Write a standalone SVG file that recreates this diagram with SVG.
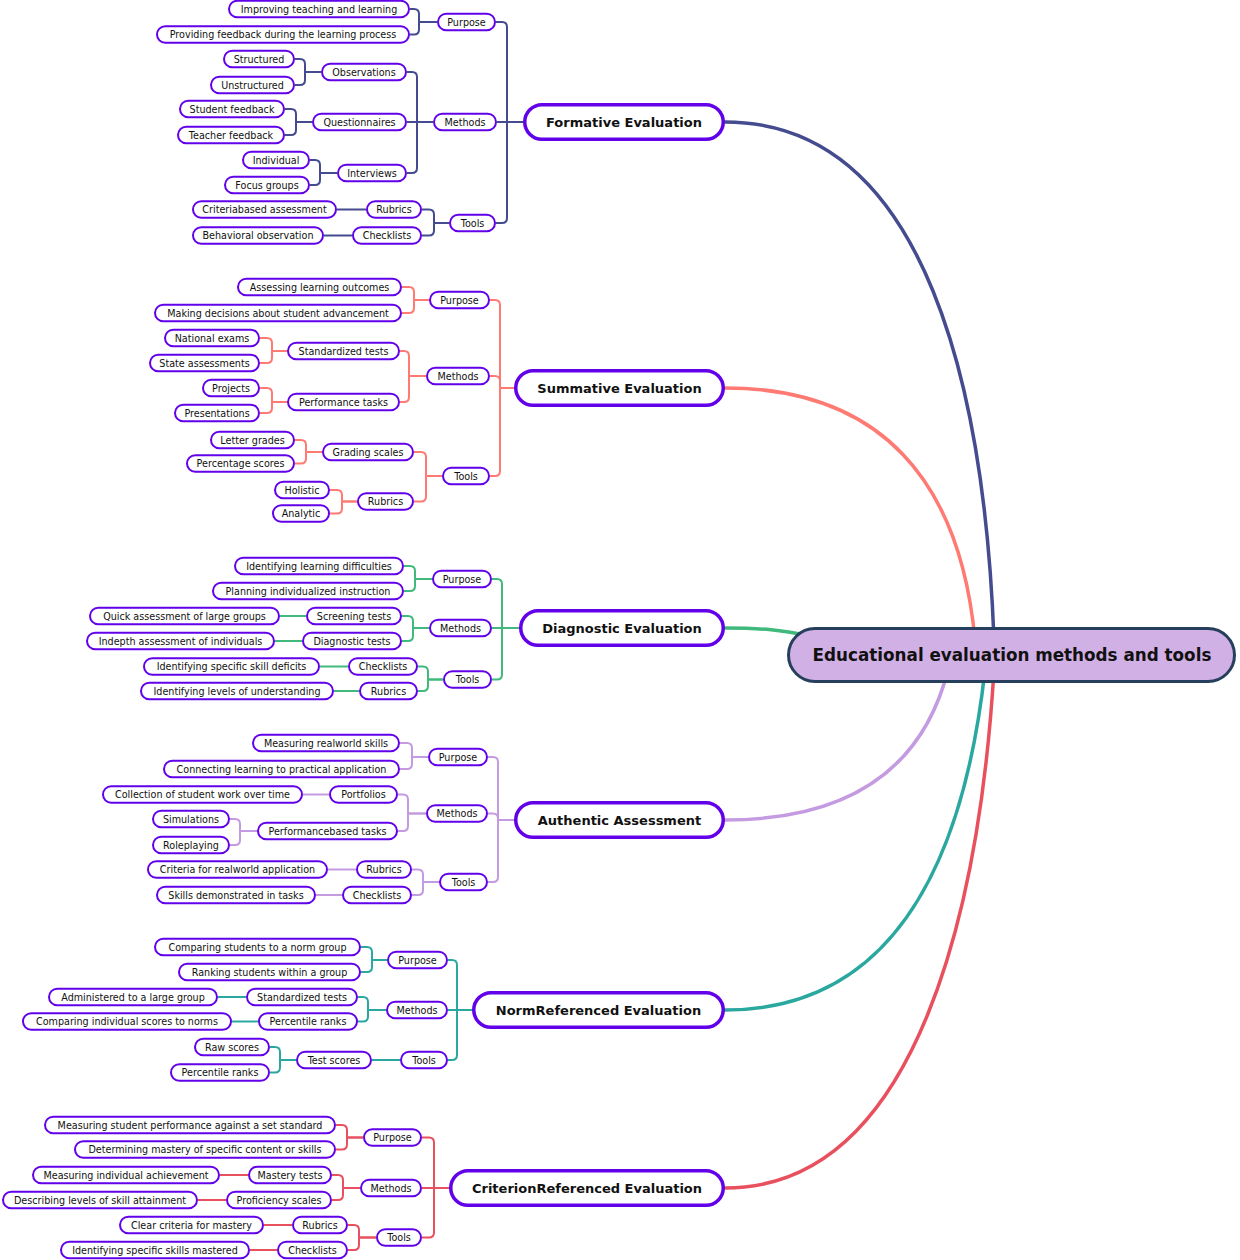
<svg xmlns="http://www.w3.org/2000/svg" width="1240" height="1260" viewBox="0 0 1240 1260">
<style>
.n rect{fill:#fff;stroke:#6200ea;stroke-width:2}
.n text{font-family:"DejaVu Sans",Verdana,sans-serif;font-size:9.6px;fill:#111;text-anchor:middle}
.m rect{stroke-width:3.5}
.m text{font-size:13px;font-weight:bold}
.root rect{fill:#d1b0e6;stroke:#263f5c;stroke-width:3}
.root text{font-family:"DejaVu Sans",Verdana,sans-serif;font-size:16.8px;font-weight:bold;fill:#111;text-anchor:middle}
.c path{fill:none;stroke-width:2}
.c .b{stroke-width:3.5;stroke-linecap:round}
.f{stroke:#444b8e}.s{stroke:#fe7a72}.d{stroke:#3fba7c}.a{stroke:#c49ae0}.nr{stroke:#2aa8a0}.cr{stroke:#e8505e}
</style>
<g id="connectors" class="c">
<path class="b f" d="M725 122 C930 122 985 400 994 640"/>
<path class="b s" d="M725 388 C880 388 960 480 975 640"/>
<path class="b d" d="M725 628 C765 628 780 630 810 636"/>
<path class="b a" d="M725 820 C860 820 925 760 948 670"/>
<path class="b nr" d="M725 1010 C900 1010 965 850 985 670"/>
<path class="b cr" d="M725 1188 C920 1188 980 900 994 670"/>
<g class="f">
<path d="M496 22 H502 Q507 22 507 27 V122 H523"/>
<path d="M497 122 H523"/>
<path d="M496 223 H502 Q507 223 507 218 V122 H523"/>
<path d="M410 9 H414 Q419 9 419 14 V22 H437"/>
<path d="M410 34.5 H414 Q419 34.5 419 29.5 V22 H437"/>
<path d="M407 72 H412 Q417 72 417 77 V122 H433"/>
<path d="M407 122 H433"/>
<path d="M407 173 H412 Q417 173 417 168 V122 H433"/>
<path d="M295 59 H300 Q305 59 305 64 V72 H321"/>
<path d="M295 85 H300 Q305 85 305 80 V72 H321"/>
<path d="M285 109 H291 Q296 109 296 114 V122 H312"/>
<path d="M285 135 H291 Q296 135 296 130 V122 H312"/>
<path d="M310 160 H315 Q320 160 320 165 V173 H337"/>
<path d="M310 185 H315 Q320 185 320 180 V173 H337"/>
<path d="M422 209.5 H429 Q434 209.5 434 214.5 V223 H449"/>
<path d="M422 235.5 H429 Q434 235.5 434 230.5 V223 H449"/>
<path d="M337 209.5 H366"/>
<path d="M324 235.5 H352"/>
</g>
<g class="s">
<path d="M490 300 H495 Q500 300 500 305 V388 H514"/>
<path d="M490 376 H495 Q500 376 500 381 V388 H514"/>
<path d="M490 476 H495 Q500 476 500 471 V388 H514"/>
<path d="M402 287 H409 Q414 287 414 292 V300 H429"/>
<path d="M402 313 H409 Q414 313 414 308 V300 H429"/>
<path d="M400 351 H404 Q409 351 409 356 V376 H426"/>
<path d="M400 402 H404 Q409 402 409 397 V376 H426"/>
<path d="M260 338 H267 Q272 338 272 343 V351 H287"/>
<path d="M260 363 H267 Q272 363 272 358 V351 H287"/>
<path d="M260 388 H267 Q272 388 272 393 V402 H287"/>
<path d="M260 413 H267 Q272 413 272 408 V402 H287"/>
<path d="M414 452 H421 Q426 452 426 457 V476 H442"/>
<path d="M414 501.5 H421 Q426 501.5 426 496.5 V476 H442"/>
<path d="M295 440 H301 Q306 440 306 445 V452 H322"/>
<path d="M295 463.5 H301 Q306 463.5 306 458.5 V452 H322"/>
<path d="M330 490 H337 Q342 490 342 495 V501.5 H357"/>
<path d="M330 513.5 H337 Q342 513.5 342 508.5 V501.5 H357"/>
</g>
<g class="d">
<path d="M492 579 H497 Q502 579 502 584 V628 H519"/>
<path d="M492 628 H519"/>
<path d="M492 679.5 H497 Q502 679.5 502 674.5 V628 H519"/>
<path d="M404 566 H410 Q415 566 415 571 V579 H432"/>
<path d="M404 591 H410 Q415 591 415 586 V579 H432"/>
<path d="M402 616 H408 Q413 616 413 621 V628 H429"/>
<path d="M402 641 H408 Q413 641 413 636 V628 H429"/>
<path d="M280 616 H306"/>
<path d="M275 641 H302"/>
<path d="M418 666.5 H423 Q428 666.5 428 671.5 V679.5 H443"/>
<path d="M418 691 H423 Q428 691 428 686 V679.5 H443"/>
<path d="M320 666.5 H348"/>
<path d="M334 691 H359"/>
</g>
<g class="a">
<path d="M488 757 H493 Q498 757 498 762 V820 H514"/>
<path d="M488 813.5 H493 Q498 813.5 498 818.5 V820 H514"/>
<path d="M488 882 H493 Q498 882 498 877 V820 H514"/>
<path d="M400 743 H407 Q412 743 412 748 V757 H428"/>
<path d="M400 769 H407 Q412 769 412 764 V757 H428"/>
<path d="M398 794.5 H403 Q408 794.5 408 799.5 V813.5 H426"/>
<path d="M398 831 H403 Q408 831 408 826 V813.5 H426"/>
<path d="M303 794.5 H329"/>
<path d="M230 819 H235 Q240 819 240 824 V831 H257"/>
<path d="M230 845 H235 Q240 845 240 840 V831 H257"/>
<path d="M412 869.5 H418 Q423 869.5 423 874.5 V882 H439"/>
<path d="M412 895 H418 Q423 895 423 890 V882 H439"/>
<path d="M328 869.5 H356"/>
<path d="M316 895 H342"/>
</g>
<g class="nr">
<path d="M448 960 H452 Q457 960 457 965 V1010 H472"/>
<path d="M448 1010 H472"/>
<path d="M448 1060 H452 Q457 1060 457 1055 V1010 H472"/>
<path d="M361 947 H367 Q372 947 372 952 V960 H387"/>
<path d="M361 972 H367 Q372 972 372 967 V960 H387"/>
<path d="M358 997 H363 Q368 997 368 1002 V1010 H386"/>
<path d="M358 1021.5 H363 Q368 1021.5 368 1016.5 V1010 H386"/>
<path d="M218 997 H246"/>
<path d="M232 1021.5 H258"/>
<path d="M372 1060 H400"/>
<path d="M270 1047 H275 Q280 1047 280 1052 V1060 H296"/>
<path d="M270 1072.5 H275 Q280 1072.5 280 1067.5 V1060 H296"/>
</g>
<g class="cr">
<path d="M422 1137.5 H429 Q434 1137.5 434 1142.5 V1188 H449"/>
<path d="M422 1188 H449"/>
<path d="M422 1237.5 H429 Q434 1237.5 434 1232.5 V1188 H449"/>
<path d="M336 1125 H342 Q347 1125 347 1130 V1137.5 H363"/>
<path d="M336 1149.5 H342 Q347 1149.5 347 1144.5 V1137.5 H363"/>
<path d="M332 1175 H338 Q343 1175 343 1180 V1188 H360"/>
<path d="M332 1200 H338 Q343 1200 343 1195 V1188 H360"/>
<path d="M220 1175 H248"/>
<path d="M198 1200 H226"/>
<path d="M348 1225 H354 Q359 1225 359 1230 V1237.5 H376"/>
<path d="M348 1250 H354 Q359 1250 359 1245 V1237.5 H376"/>
<path d="M264 1225 H292"/>
<path d="M250 1250 H277"/>
</g>
</g>
<g id="root" class="root"><rect x="788.5" y="628.5" width="446" height="53" rx="26.5"/><text x="1012" y="661">Educational evaluation methods and tools</text></g>

<g id="formative" class="n m"><rect x="524.75" y="104.75" width="198.5" height="34.5" rx="17.25"/><text x="624" y="126.7">Formative Evaluation</text></g>
<g id="f-purpose" class="n"><rect x="438" y="13.75" width="57" height="16.5" rx="8.25"/><text x="466.5" y="25.5">Purpose</text></g>
<g id="f-p1" class="n"><rect x="229" y="0.75" width="180" height="16.5" rx="8.25"/><text x="319" y="12.5">Improving teaching and learning</text></g>
<g id="f-p2" class="n"><rect x="157" y="26.25" width="252" height="16.5" rx="8.25"/><text x="283" y="38">Providing feedback during the learning process</text></g>
<g id="f-methods" class="n"><rect x="434" y="113.75" width="62" height="16.5" rx="8.25"/><text x="465" y="125.5">Methods</text></g>
<g id="f-observations" class="n"><rect x="322" y="63.75" width="84" height="16.5" rx="8.25"/><text x="364" y="75.5">Observations</text></g>
<g id="f-structured" class="n"><rect x="224" y="50.75" width="70" height="16.5" rx="8.25"/><text x="259" y="62.5">Structured</text></g>
<g id="f-unstructured" class="n"><rect x="211" y="76.75" width="83" height="16.5" rx="8.25"/><text x="252.5" y="88.5">Unstructured</text></g>
<g id="f-questionnaires" class="n"><rect x="313" y="113.75" width="93" height="16.5" rx="8.25"/><text x="359.5" y="125.5">Questionnaires</text></g>
<g id="f-student-feedback" class="n"><rect x="180" y="100.75" width="104" height="16.5" rx="8.25"/><text x="232" y="112.5">Student feedback</text></g>
<g id="f-teacher-feedback" class="n"><rect x="178" y="126.75" width="106" height="16.5" rx="8.25"/><text x="231" y="138.5">Teacher feedback</text></g>
<g id="f-interviews" class="n"><rect x="338" y="164.75" width="68" height="16.5" rx="8.25"/><text x="372" y="176.5">Interviews</text></g>
<g id="f-individual" class="n"><rect x="243" y="151.75" width="66" height="16.5" rx="8.25"/><text x="276" y="163.5">Individual</text></g>
<g id="f-focus-groups" class="n"><rect x="225" y="176.75" width="84" height="16.5" rx="8.25"/><text x="267" y="188.5">Focus groups</text></g>
<g id="f-tools" class="n"><rect x="450" y="214.75" width="45" height="16.5" rx="8.25"/><text x="472.5" y="226.5">Tools</text></g>
<g id="f-rubrics" class="n"><rect x="367" y="201.25" width="54" height="16.5" rx="8.25"/><text x="394" y="213">Rubrics</text></g>
<g id="f-criteria" class="n"><rect x="193" y="201.25" width="143" height="16.5" rx="8.25"/><text x="264.5" y="213">Criteriabased assessment</text></g>
<g id="f-checklists" class="n"><rect x="353" y="227.25" width="68" height="16.5" rx="8.25"/><text x="387" y="239">Checklists</text></g>
<g id="f-behavioral" class="n"><rect x="193" y="227.25" width="130" height="16.5" rx="8.25"/><text x="258" y="239">Behavioral observation</text></g>

<g id="summative" class="n m"><rect x="515.75" y="370.75" width="207.5" height="34.5" rx="17.25"/><text x="619.5" y="392.7">Summative Evaluation</text></g>
<g id="s-purpose" class="n"><rect x="430" y="291.75" width="59" height="16.5" rx="8.25"/><text x="459.5" y="303.5">Purpose</text></g>
<g id="s-p1" class="n"><rect x="238" y="278.75" width="163" height="16.5" rx="8.25"/><text x="319.5" y="290.5">Assessing learning outcomes</text></g>
<g id="s-p2" class="n"><rect x="155" y="304.75" width="246" height="16.5" rx="8.25"/><text x="278" y="316.5">Making decisions about student advancement</text></g>
<g id="s-methods" class="n"><rect x="427" y="367.75" width="62" height="16.5" rx="8.25"/><text x="458" y="379.5">Methods</text></g>
<g id="s-standardized" class="n"><rect x="288" y="342.75" width="111" height="16.5" rx="8.25"/><text x="343.5" y="354.5">Standardized tests</text></g>
<g id="s-national" class="n"><rect x="165" y="329.75" width="94" height="16.5" rx="8.25"/><text x="212" y="341.5">National exams</text></g>
<g id="s-state" class="n"><rect x="150" y="354.75" width="109" height="16.5" rx="8.25"/><text x="204.5" y="366.5">State assessments</text></g>
<g id="s-performance" class="n"><rect x="288" y="393.75" width="111" height="16.5" rx="8.25"/><text x="343.5" y="405.5">Performance tasks</text></g>
<g id="s-projects" class="n"><rect x="203" y="379.75" width="56" height="16.5" rx="8.25"/><text x="231" y="391.5">Projects</text></g>
<g id="s-presentations" class="n"><rect x="175" y="404.75" width="84" height="16.5" rx="8.25"/><text x="217" y="416.5">Presentations</text></g>
<g id="s-tools" class="n"><rect x="443" y="467.75" width="46" height="16.5" rx="8.25"/><text x="466" y="479.5">Tools</text></g>
<g id="s-grading" class="n"><rect x="323" y="443.75" width="90" height="16.5" rx="8.25"/><text x="368" y="455.5">Grading scales</text></g>
<g id="s-letter" class="n"><rect x="211" y="431.75" width="83" height="16.5" rx="8.25"/><text x="252.5" y="443.5">Letter grades</text></g>
<g id="s-percentage" class="n"><rect x="187" y="455.25" width="107" height="16.5" rx="8.25"/><text x="240.5" y="467">Percentage scores</text></g>
<g id="s-rubrics" class="n"><rect x="358" y="493.25" width="55" height="16.5" rx="8.25"/><text x="385.5" y="505">Rubrics</text></g>
<g id="s-holistic" class="n"><rect x="275" y="481.75" width="54" height="16.5" rx="8.25"/><text x="302" y="493.5">Holistic</text></g>
<g id="s-analytic" class="n"><rect x="273" y="505.25" width="56" height="16.5" rx="8.25"/><text x="301" y="517">Analytic</text></g>

<g id="diagnostic" class="n m"><rect x="520.75" y="610.75" width="202.5" height="34.5" rx="17.25"/><text x="622" y="632.7">Diagnostic Evaluation</text></g>
<g id="d-purpose" class="n"><rect x="433" y="570.75" width="58" height="16.5" rx="8.25"/><text x="462" y="582.5">Purpose</text></g>
<g id="d-p1" class="n"><rect x="235" y="557.75" width="168" height="16.5" rx="8.25"/><text x="319" y="569.5">Identifying learning difficulties</text></g>
<g id="d-p2" class="n"><rect x="213" y="582.75" width="190" height="16.5" rx="8.25"/><text x="308" y="594.5">Planning individualized instruction</text></g>
<g id="d-methods" class="n"><rect x="430" y="619.75" width="61" height="16.5" rx="8.25"/><text x="460.5" y="631.5">Methods</text></g>
<g id="d-screening" class="n"><rect x="307" y="607.75" width="94" height="16.5" rx="8.25"/><text x="354" y="619.5">Screening tests</text></g>
<g id="d-quick" class="n"><rect x="90" y="607.75" width="189" height="16.5" rx="8.25"/><text x="184.5" y="619.5">Quick assessment of large groups</text></g>
<g id="d-diagtests" class="n"><rect x="303" y="632.75" width="98" height="16.5" rx="8.25"/><text x="352" y="644.5">Diagnostic tests</text></g>
<g id="d-indepth" class="n"><rect x="87" y="632.75" width="187" height="16.5" rx="8.25"/><text x="180.5" y="644.5">Indepth assessment of individuals</text></g>
<g id="d-tools" class="n"><rect x="444" y="671.25" width="47" height="16.5" rx="8.25"/><text x="467.5" y="683">Tools</text></g>
<g id="d-checklists" class="n"><rect x="349" y="658.25" width="68" height="16.5" rx="8.25"/><text x="383" y="670">Checklists</text></g>
<g id="d-deficits" class="n"><rect x="144" y="658.25" width="175" height="16.5" rx="8.25"/><text x="231.5" y="670">Identifying specific skill deficits</text></g>
<g id="d-rubrics" class="n"><rect x="360" y="682.75" width="57" height="16.5" rx="8.25"/><text x="388.5" y="694.5">Rubrics</text></g>
<g id="d-levels" class="n"><rect x="141" y="682.75" width="192" height="16.5" rx="8.25"/><text x="237" y="694.5">Identifying levels of understanding</text></g>

<g id="authentic" class="n m"><rect x="515.75" y="802.75" width="207.5" height="34.5" rx="17.25"/><text x="619.5" y="824.7">Authentic Assessment</text></g>
<g id="a-purpose" class="n"><rect x="429" y="748.75" width="58" height="16.5" rx="8.25"/><text x="458" y="760.5">Purpose</text></g>
<g id="a-p1" class="n"><rect x="253" y="734.75" width="146" height="16.5" rx="8.25"/><text x="326" y="746.5">Measuring realworld skills</text></g>
<g id="a-p2" class="n"><rect x="164" y="760.75" width="235" height="16.5" rx="8.25"/><text x="281.5" y="772.5">Connecting learning to practical application</text></g>
<g id="a-methods" class="n"><rect x="427" y="805.25" width="60" height="16.5" rx="8.25"/><text x="457" y="817">Methods</text></g>
<g id="a-portfolios" class="n"><rect x="330" y="786.25" width="67" height="16.5" rx="8.25"/><text x="363.5" y="798">Portfolios</text></g>
<g id="a-collection" class="n"><rect x="103" y="786.25" width="199" height="16.5" rx="8.25"/><text x="202.5" y="798">Collection of student work over time</text></g>
<g id="a-perfbased" class="n"><rect x="258" y="822.75" width="139" height="16.5" rx="8.25"/><text x="327.5" y="834.5">Performancebased tasks</text></g>
<g id="a-simulations" class="n"><rect x="153" y="810.75" width="76" height="16.5" rx="8.25"/><text x="191" y="822.5">Simulations</text></g>
<g id="a-roleplaying" class="n"><rect x="153" y="836.75" width="76" height="16.5" rx="8.25"/><text x="191" y="848.5">Roleplaying</text></g>
<g id="a-tools" class="n"><rect x="440" y="873.75" width="47" height="16.5" rx="8.25"/><text x="463.5" y="885.5">Tools</text></g>
<g id="a-rubrics" class="n"><rect x="357" y="861.25" width="54" height="16.5" rx="8.25"/><text x="384" y="873">Rubrics</text></g>
<g id="a-criteria" class="n"><rect x="148" y="861.25" width="179" height="16.5" rx="8.25"/><text x="237.5" y="873">Criteria for realworld application</text></g>
<g id="a-checklists" class="n"><rect x="343" y="886.75" width="68" height="16.5" rx="8.25"/><text x="377" y="898.5">Checklists</text></g>
<g id="a-skills" class="n"><rect x="157" y="886.75" width="158" height="16.5" rx="8.25"/><text x="236" y="898.5">Skills demonstrated in tasks</text></g>

<g id="norm" class="n m"><rect x="473.75" y="992.75" width="249.5" height="34.5" rx="17.25"/><text x="598.5" y="1014.7">NormReferenced Evaluation</text></g>
<g id="n-purpose" class="n"><rect x="388" y="951.75" width="59" height="16.5" rx="8.25"/><text x="417.5" y="963.5">Purpose</text></g>
<g id="n-p1" class="n"><rect x="155" y="938.75" width="205" height="16.5" rx="8.25"/><text x="257.5" y="950.5">Comparing students to a norm group</text></g>
<g id="n-p2" class="n"><rect x="179" y="963.75" width="181" height="16.5" rx="8.25"/><text x="269.5" y="975.5">Ranking students within a group</text></g>
<g id="n-methods" class="n"><rect x="387" y="1001.75" width="60" height="16.5" rx="8.25"/><text x="417" y="1013.5">Methods</text></g>
<g id="n-standardized" class="n"><rect x="247" y="988.75" width="110" height="16.5" rx="8.25"/><text x="302" y="1000.5">Standardized tests</text></g>
<g id="n-administered" class="n"><rect x="49" y="988.75" width="168" height="16.5" rx="8.25"/><text x="133" y="1000.5">Administered to a large group</text></g>
<g id="n-percentile" class="n"><rect x="259" y="1013.25" width="98" height="16.5" rx="8.25"/><text x="308" y="1025">Percentile ranks</text></g>
<g id="n-comparing" class="n"><rect x="23" y="1013.25" width="208" height="16.5" rx="8.25"/><text x="127" y="1025">Comparing individual scores to norms</text></g>
<g id="n-tools" class="n"><rect x="401" y="1051.75" width="46" height="16.5" rx="8.25"/><text x="424" y="1063.5">Tools</text></g>
<g id="n-testscores" class="n"><rect x="297" y="1051.75" width="74" height="16.5" rx="8.25"/><text x="334" y="1063.5">Test scores</text></g>
<g id="n-raw" class="n"><rect x="195" y="1038.75" width="74" height="16.5" rx="8.25"/><text x="232" y="1050.5">Raw scores</text></g>
<g id="n-percentile2" class="n"><rect x="171" y="1064.25" width="98" height="16.5" rx="8.25"/><text x="220" y="1076">Percentile ranks</text></g>

<g id="criterion" class="n m"><rect x="450.75" y="1170.75" width="272.5" height="34.5" rx="17.25"/><text x="587" y="1192.7">CriterionReferenced Evaluation</text></g>
<g id="c-purpose" class="n"><rect x="364" y="1129.25" width="57" height="16.5" rx="8.25"/><text x="392.5" y="1141">Purpose</text></g>
<g id="c-p1" class="n"><rect x="45" y="1116.75" width="290" height="16.5" rx="8.25"/><text x="190" y="1128.5">Measuring student performance against a set standard</text></g>
<g id="c-p2" class="n"><rect x="75" y="1141.25" width="260" height="16.5" rx="8.25"/><text x="205" y="1153">Determining mastery of specific content or skills</text></g>
<g id="c-methods" class="n"><rect x="361" y="1179.75" width="60" height="16.5" rx="8.25"/><text x="391" y="1191.5">Methods</text></g>
<g id="c-mastery" class="n"><rect x="249" y="1166.75" width="82" height="16.5" rx="8.25"/><text x="290" y="1178.5">Mastery tests</text></g>
<g id="c-individual" class="n"><rect x="33" y="1166.75" width="186" height="16.5" rx="8.25"/><text x="126" y="1178.5">Measuring individual achievement</text></g>
<g id="c-proficiency" class="n"><rect x="227" y="1191.75" width="104" height="16.5" rx="8.25"/><text x="279" y="1203.5">Proficiency scales</text></g>
<g id="c-describing" class="n"><rect x="3" y="1191.75" width="194" height="16.5" rx="8.25"/><text x="100" y="1203.5">Describing levels of skill attainment</text></g>
<g id="c-tools" class="n"><rect x="377" y="1229.25" width="44" height="16.5" rx="8.25"/><text x="399" y="1241">Tools</text></g>
<g id="c-rubrics" class="n"><rect x="293" y="1216.75" width="54" height="16.5" rx="8.25"/><text x="320" y="1228.5">Rubrics</text></g>
<g id="c-clear" class="n"><rect x="120" y="1216.75" width="143" height="16.5" rx="8.25"/><text x="191.5" y="1228.5">Clear criteria for mastery</text></g>
<g id="c-checklists" class="n"><rect x="278" y="1241.75" width="69" height="16.5" rx="8.25"/><text x="312.5" y="1253.5">Checklists</text></g>
<g id="c-skills" class="n"><rect x="61" y="1241.75" width="188" height="16.5" rx="8.25"/><text x="155" y="1253.5">Identifying specific skills mastered</text></g>
</svg>
